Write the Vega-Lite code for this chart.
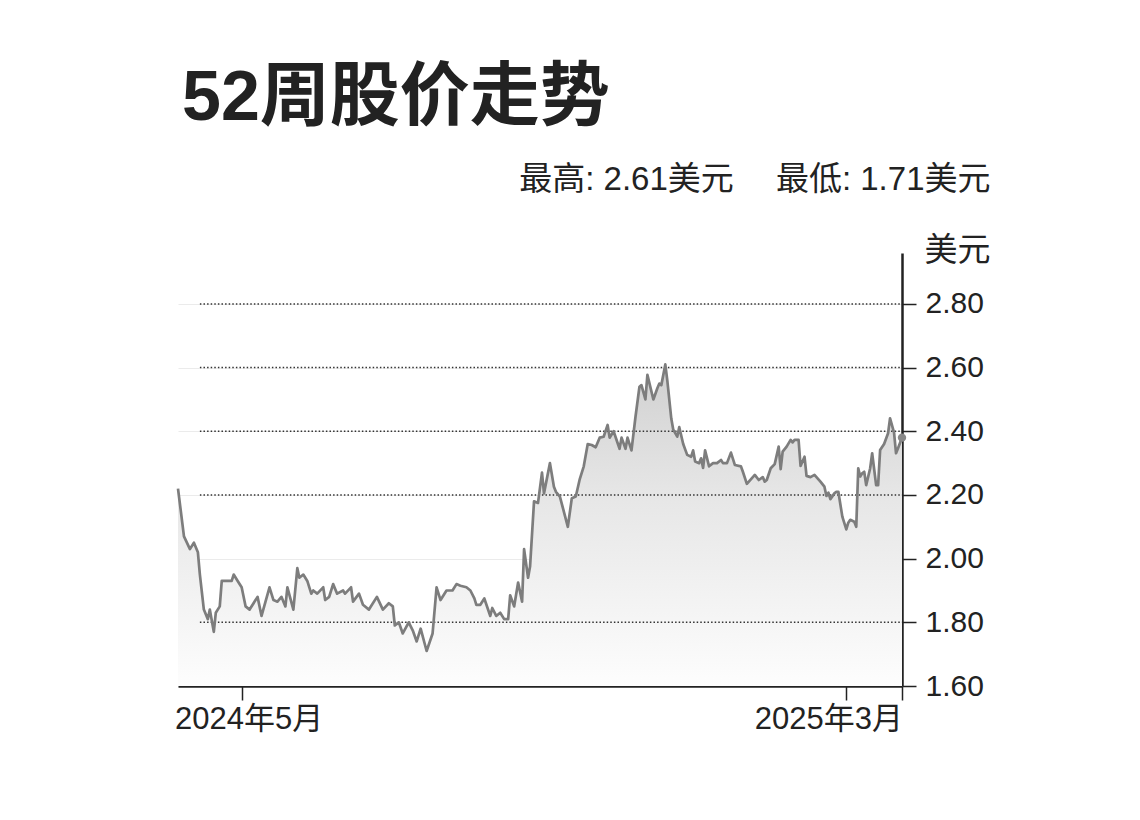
{
  "$schema": "https://vega.github.io/schema/vega-lite/v6.json",
  "autosize": {"type": "none"},
  "padding": {"left": 178, "top": 253, "right": 238, "bottom": 134},
  "width": 724,
  "height": 433,
  "background": "white",
  "config": {"view": {"stroke": null}},
  "title": {
    "text": "52周股价走势",
    "anchor": "start",
    "frame": "group",
    "font": "Liberation Sans, Noto Sans CJK SC",
    "fontSize": 70,
    "fontWeight": "bold",
    "color": "#222222",
    "baseline": "alphabetic",
    "offset": 128,
    "dy": 155,
    "dx": 4
  },
  "datasets": {
    "price": [
      {"date": "2024-03-30", "price": 2.22},
      {"date": "2024-04-02", "price": 2.07},
      {"date": "2024-04-05", "price": 2.03},
      {"date": "2024-04-07", "price": 2.05},
      {"date": "2024-04-09", "price": 2.02},
      {"date": "2024-04-10", "price": 1.95},
      {"date": "2024-04-12", "price": 1.84},
      {"date": "2024-04-14", "price": 1.81},
      {"date": "2024-04-15", "price": 1.84},
      {"date": "2024-04-17", "price": 1.77},
      {"date": "2024-04-18", "price": 1.83},
      {"date": "2024-04-20", "price": 1.85},
      {"date": "2024-04-21", "price": 1.93},
      {"date": "2024-04-26", "price": 1.93},
      {"date": "2024-04-27", "price": 1.95},
      {"date": "2024-04-29", "price": 1.93},
      {"date": "2024-05-01", "price": 1.91},
      {"date": "2024-05-03", "price": 1.85},
      {"date": "2024-05-05", "price": 1.84},
      {"date": "2024-05-09", "price": 1.88},
      {"date": "2024-05-11", "price": 1.82},
      {"date": "2024-05-15", "price": 1.91},
      {"date": "2024-05-17", "price": 1.87},
      {"date": "2024-05-19", "price": 1.865},
      {"date": "2024-05-21", "price": 1.88},
      {"date": "2024-05-23", "price": 1.85},
      {"date": "2024-05-24", "price": 1.91},
      {"date": "2024-05-27", "price": 1.84},
      {"date": "2024-05-29", "price": 1.97},
      {"date": "2024-05-30", "price": 1.94},
      {"date": "2024-06-01", "price": 1.95},
      {"date": "2024-06-03", "price": 1.93},
      {"date": "2024-06-05", "price": 1.89},
      {"date": "2024-06-06", "price": 1.90},
      {"date": "2024-06-08", "price": 1.89},
      {"date": "2024-06-11", "price": 1.91},
      {"date": "2024-06-12", "price": 1.87},
      {"date": "2024-06-14", "price": 1.88},
      {"date": "2024-06-16", "price": 1.92},
      {"date": "2024-06-18", "price": 1.89},
      {"date": "2024-06-21", "price": 1.90},
      {"date": "2024-06-22", "price": 1.89},
      {"date": "2024-06-25", "price": 1.91},
      {"date": "2024-06-26", "price": 1.865},
      {"date": "2024-06-29", "price": 1.89},
      {"date": "2024-07-01", "price": 1.855},
      {"date": "2024-07-04", "price": 1.84},
      {"date": "2024-07-08", "price": 1.88},
      {"date": "2024-07-11", "price": 1.84},
      {"date": "2024-07-14", "price": 1.86},
      {"date": "2024-07-16", "price": 1.85},
      {"date": "2024-07-17", "price": 1.79},
      {"date": "2024-07-19", "price": 1.80},
      {"date": "2024-07-21", "price": 1.765},
      {"date": "2024-07-24", "price": 1.80},
      {"date": "2024-07-26", "price": 1.775},
      {"date": "2024-07-28", "price": 1.74},
      {"date": "2024-07-30", "price": 1.78},
      {"date": "2024-08-02", "price": 1.71},
      {"date": "2024-08-05", "price": 1.765},
      {"date": "2024-08-07", "price": 1.91},
      {"date": "2024-08-09", "price": 1.87},
      {"date": "2024-08-12", "price": 1.90},
      {"date": "2024-08-15", "price": 1.90},
      {"date": "2024-08-17", "price": 1.92},
      {"date": "2024-08-19", "price": 1.915},
      {"date": "2024-08-22", "price": 1.91},
      {"date": "2024-08-24", "price": 1.90},
      {"date": "2024-08-26", "price": 1.875},
      {"date": "2024-08-27", "price": 1.855},
      {"date": "2024-08-29", "price": 1.855},
      {"date": "2024-08-31", "price": 1.875},
      {"date": "2024-09-03", "price": 1.82},
      {"date": "2024-09-04", "price": 1.845},
      {"date": "2024-09-06", "price": 1.82},
      {"date": "2024-09-08", "price": 1.83},
      {"date": "2024-09-10", "price": 1.81},
      {"date": "2024-09-12", "price": 1.81},
      {"date": "2024-09-13", "price": 1.885},
      {"date": "2024-09-15", "price": 1.85},
      {"date": "2024-09-17", "price": 1.925},
      {"date": "2024-09-19", "price": 1.865},
      {"date": "2024-09-20", "price": 2.03},
      {"date": "2024-09-22", "price": 1.94},
      {"date": "2024-09-23", "price": 1.975},
      {"date": "2024-09-25", "price": 2.18},
      {"date": "2024-09-27", "price": 2.175},
      {"date": "2024-09-29", "price": 2.27},
      {"date": "2024-09-30", "price": 2.205},
      {"date": "2024-10-03", "price": 2.30},
      {"date": "2024-10-05", "price": 2.226},
      {"date": "2024-10-06", "price": 2.21},
      {"date": "2024-10-08", "price": 2.195},
      {"date": "2024-10-12", "price": 2.10},
      {"date": "2024-10-14", "price": 2.19},
      {"date": "2024-10-16", "price": 2.195},
      {"date": "2024-10-18", "price": 2.25},
      {"date": "2024-10-20", "price": 2.29},
      {"date": "2024-10-22", "price": 2.36},
      {"date": "2024-10-24", "price": 2.357},
      {"date": "2024-10-26", "price": 2.35},
      {"date": "2024-10-28", "price": 2.38},
      {"date": "2024-10-30", "price": 2.383},
      {"date": "2024-11-01", "price": 2.42},
      {"date": "2024-11-02", "price": 2.38},
      {"date": "2024-11-04", "price": 2.40},
      {"date": "2024-11-07", "price": 2.345},
      {"date": "2024-11-08", "price": 2.38},
      {"date": "2024-11-10", "price": 2.345},
      {"date": "2024-11-11", "price": 2.38},
      {"date": "2024-11-13", "price": 2.34},
      {"date": "2024-11-15", "price": 2.445},
      {"date": "2024-11-17", "price": 2.54},
      {"date": "2024-11-18", "price": 2.545},
      {"date": "2024-11-20", "price": 2.50},
      {"date": "2024-11-21", "price": 2.577},
      {"date": "2024-11-24", "price": 2.50},
      {"date": "2024-11-26", "price": 2.535},
      {"date": "2024-11-27", "price": 2.55},
      {"date": "2024-11-28", "price": 2.545},
      {"date": "2024-11-30", "price": 2.61},
      {"date": "2024-12-01", "price": 2.56},
      {"date": "2024-12-03", "price": 2.44},
      {"date": "2024-12-04", "price": 2.405},
      {"date": "2024-12-06", "price": 2.383},
      {"date": "2024-12-07", "price": 2.413},
      {"date": "2024-12-09", "price": 2.36},
      {"date": "2024-12-11", "price": 2.326},
      {"date": "2024-12-13", "price": 2.32},
      {"date": "2024-12-14", "price": 2.34},
      {"date": "2024-12-15", "price": 2.305},
      {"date": "2024-12-17", "price": 2.30},
      {"date": "2024-12-18", "price": 2.315},
      {"date": "2024-12-19", "price": 2.285},
      {"date": "2024-12-20", "price": 2.34},
      {"date": "2024-12-22", "price": 2.29},
      {"date": "2024-12-24", "price": 2.30},
      {"date": "2024-12-26", "price": 2.30},
      {"date": "2024-12-28", "price": 2.31},
      {"date": "2024-12-29", "price": 2.30},
      {"date": "2024-12-31", "price": 2.30},
      {"date": "2025-01-02", "price": 2.333},
      {"date": "2025-01-04", "price": 2.294},
      {"date": "2025-01-07", "price": 2.29},
      {"date": "2025-01-08", "price": 2.273},
      {"date": "2025-01-10", "price": 2.235},
      {"date": "2025-01-14", "price": 2.263},
      {"date": "2025-01-16", "price": 2.247},
      {"date": "2025-01-18", "price": 2.256},
      {"date": "2025-01-19", "price": 2.242},
      {"date": "2025-01-20", "price": 2.247},
      {"date": "2025-01-22", "price": 2.284},
      {"date": "2025-01-24", "price": 2.297},
      {"date": "2025-01-26", "price": 2.352},
      {"date": "2025-01-27", "price": 2.281},
      {"date": "2025-01-28", "price": 2.336},
      {"date": "2025-01-30", "price": 2.352},
      {"date": "2025-02-01", "price": 2.373},
      {"date": "2025-02-02", "price": 2.365},
      {"date": "2025-02-03", "price": 2.373},
      {"date": "2025-02-05", "price": 2.373},
      {"date": "2025-02-06", "price": 2.291},
      {"date": "2025-02-08", "price": 2.32},
      {"date": "2025-02-09", "price": 2.26},
      {"date": "2025-02-11", "price": 2.256},
      {"date": "2025-02-13", "price": 2.263},
      {"date": "2025-02-16", "price": 2.242},
      {"date": "2025-02-18", "price": 2.226},
      {"date": "2025-02-19", "price": 2.197},
      {"date": "2025-02-20", "price": 2.207},
      {"date": "2025-02-21", "price": 2.187},
      {"date": "2025-02-23", "price": 2.205},
      {"date": "2025-02-24", "price": 2.21},
      {"date": "2025-02-25", "price": 2.21},
      {"date": "2025-02-27", "price": 2.132},
      {"date": "2025-03-01", "price": 2.092},
      {"date": "2025-03-02", "price": 2.113},
      {"date": "2025-03-03", "price": 2.122},
      {"date": "2025-03-05", "price": 2.116},
      {"date": "2025-03-06", "price": 2.10},
      {"date": "2025-03-07", "price": 2.284},
      {"date": "2025-03-08", "price": 2.258},
      {"date": "2025-03-09", "price": 2.268},
      {"date": "2025-03-10", "price": 2.273},
      {"date": "2025-03-11", "price": 2.231},
      {"date": "2025-03-13", "price": 2.284},
      {"date": "2025-03-14", "price": 2.331},
      {"date": "2025-03-16", "price": 2.231},
      {"date": "2025-03-17", "price": 2.231},
      {"date": "2025-03-18", "price": 2.341},
      {"date": "2025-03-20", "price": 2.36},
      {"date": "2025-03-22", "price": 2.394},
      {"date": "2025-03-23", "price": 2.441},
      {"date": "2025-03-25", "price": 2.396},
      {"date": "2025-03-26", "price": 2.331},
      {"date": "2025-03-27", "price": 2.347},
      {"date": "2025-03-29", "price": 2.38}
    ],
    "grid": [
      {"level": 1.8},
      {"level": 2.2},
      {"level": 2.4},
      {"level": 2.6},
      {"level": 2.8}
    ]
  },
  "layer": [
    {
      "data": {"name": "price"},
      "mark": {
        "type": "area",
        "color": {
          "gradient": "linear",
          "x1": 0, "y1": 0, "x2": 0, "y2": 1,
          "stops": [
            {"offset": 0, "color": "#d0d0d0"},
            {"offset": 0.4, "color": "#e6e6e6"},
            {"offset": 1, "color": "#fdfdfd"}
          ]
        }
      },
      "encoding": {
        "x": {
          "field": "date",
          "type": "temporal",
          "scale": {
            "type": "utc",
            "nice": false,
            "domain": [
              {"year": 2024, "month": 3, "date": 30, "utc": true},
              {"year": 2025, "month": 3, "date": 29, "utc": true}
            ]
          },
          "axis": {
            "title": null,
            "values": [
              {"year": 2024, "month": 5, "date": 1, "utc": true},
              {"year": 2025, "month": 3, "date": 1, "utc": true},
              {"year": 2025, "month": 3, "date": 29, "utc": true}
            ],
            "labelExpr": "utcdate(datum.value) == 1 ? utcFormat(datum.value, '%Y年%-m月') : ''",
            "labelOffset": {"condition": {"test": "utcyear(datum.value) == 2025", "value": -18}, "value": 7},
            "labelFont": "Liberation Sans, Noto Sans CJK SC, sans-serif",
            "labelFontSize": 31,
            "labelColor": "#222222",
            "labelPadding": 4,
            "labelOverlap": false,
            "domainColor": "#222222",
            "domainWidth": 2.5,
            "tickColor": "#222222",
            "tickWidth": 1.5,
            "tickSize": 14,
            "grid": false
          }
        },
        "y": {
          "field": "price",
          "type": "quantitative",
          "scale": {"domain": [1.6, 2.96], "nice": false, "zero": false},
          "axis": {
            "orient": "right",
            "values": [1.6, 1.8, 2.0, 2.2, 2.4, 2.6, 2.8],
            "format": ".2f",
            "labelFont": "Liberation Sans, Noto Sans CJK SC, sans-serif",
            "labelFontSize": 30,
            "labelColor": "#222222",
            "labelPadding": 9,
            "domainColor": "#222222",
            "domainWidth": 2.5,
            "tickColor": "#222222",
            "tickWidth": 1.5,
            "tickSize": 14,
            "grid": true,
            "gridColor": "#ebebeb",
            "gridWidth": 1,
            "title": ["最高: 2.61美元　 最低: 1.71美元", "美元"],
            "titleAngle": 0,
            "titleAlign": "right",
            "titleBaseline": "middle",
            "titleX": 88,
            "titleY": -74,
            "titleLineHeight": 71,
            "titleFont": "Liberation Sans, Noto Sans CJK SC, sans-serif",
            "titleFontSize": 33,
            "titleFontWeight": "normal",
            "titleColor": "#222222"
          }
        },
        "y2": {"datum": 1.6}
      }
    },
    {
      "data": {"name": "grid"},
      "mark": {"type": "rule", "color": "#333333", "strokeWidth": 1.5, "strokeDash": [1.5, 2.1]},
      "encoding": {
        "y": {"field": "level", "type": "quantitative"},
        "x": {"datum": {"year": 2024, "month": 4, "date": 10, "utc": true}, "type": "temporal"},
        "x2": {"datum": {"year": 2025, "month": 3, "date": 29, "utc": true}}
      }
    },
    {
      "data": {"name": "price"},
      "mark": {"type": "line", "color": "#7d7d7d", "strokeWidth": 2.7, "strokeJoin": "round"},
      "encoding": {
        "x": {"field": "date", "type": "temporal"},
        "y": {"field": "price", "type": "quantitative"}
      }
    },
    {
      "data": {"name": "price"},
      "transform": [
        {"joinaggregate": [{"op": "max", "field": "date", "as": "last"}]},
        {"filter": "time(datum.date) == time(datum.last)"}
      ],
      "mark": {"type": "circle", "color": "#888888", "opacity": 1, "size": 70},
      "encoding": {
        "x": {"field": "date", "type": "temporal"},
        "y": {"field": "price", "type": "quantitative"}
      }
    }
  ]
}
